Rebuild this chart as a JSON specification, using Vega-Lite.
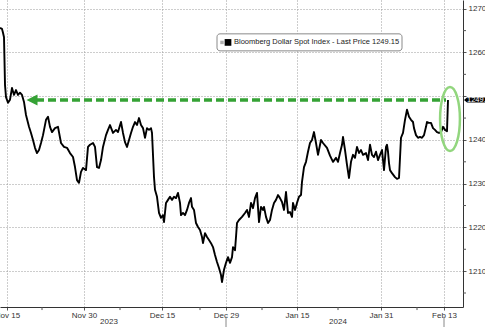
{
  "$schema": "https://vega.github.io/schema/vega-lite/v6.json",
  "width": 463,
  "height": 307,
  "autosize": {"type": "none"},
  "padding": {"left": 0, "top": 0, "right": 22, "bottom": 20},
  "background": "white",
  "config": {"view": {"stroke": null}, "font": "Liberation Sans"},
  "datasets": {
    "price": [
      {"i":0,"v":1265.6},{"i":2,"v":1265.4},{"i":3,"v":1264.5},{"i":4,"v":1263.5},{"i":5,"v":1252.6},{"i":6,"v":1249.8},{"i":8,"v":1248.5},{"i":10,"v":1249.2},{"i":12,"v":1251.9},{"i":14,"v":1250.3},{"i":16,"v":1251.4},{"i":18,"v":1250.3},{"i":20,"v":1250.8},{"i":22,"v":1250.3},{"i":24,"v":1248.7},{"i":26,"v":1245.7},{"i":29,"v":1243.0},{"i":31,"v":1241.6},{"i":33,"v":1240.0},{"i":35,"v":1238.2},{"i":37,"v":1237.0},{"i":39,"v":1237.7},{"i":41,"v":1239.3},{"i":43,"v":1241.1},{"i":46,"v":1244.6},{"i":48,"v":1245.3},{"i":50,"v":1243.0},{"i":52,"v":1241.8},{"i":55,"v":1242.7},{"i":58,"v":1243.0},{"i":61,"v":1239.3},{"i":64,"v":1238.4},{"i":67,"v":1238.2},{"i":70,"v":1237.0},{"i":73,"v":1236.1},{"i":75,"v":1233.8},{"i":77,"v":1230.8},{"i":79,"v":1230.2},{"i":81,"v":1232.7},{"i":83,"v":1233.6},{"i":86,"v":1233.1},{"i":88,"v":1238.4},{"i":90,"v":1238.9},{"i":93,"v":1239.3},{"i":95,"v":1238.4},{"i":97,"v":1233.8},{"i":99,"v":1233.6},{"i":101,"v":1235.4},{"i":103,"v":1238.4},{"i":106,"v":1241.1},{"i":108,"v":1242.3},{"i":110,"v":1243.4},{"i":113,"v":1241.6},{"i":116,"v":1242.3},{"i":118,"v":1241.8},{"i":121,"v":1244.1},{"i":123,"v":1241.6},{"i":125,"v":1239.5},{"i":127,"v":1238.4},{"i":129,"v":1240.0},{"i":131,"v":1241.6},{"i":133,"v":1243.0},{"i":135,"v":1244.1},{"i":137,"v":1243.4},{"i":139,"v":1245.0},{"i":141,"v":1243.4},{"i":143,"v":1242.7},{"i":145,"v":1240.5},{"i":147,"v":1242.7},{"i":149,"v":1242.3},{"i":151,"v":1242.7},{"i":152,"v":1241.6},{"i":154,"v":1231.5},{"i":155,"v":1228.6},{"i":157,"v":1227.0},{"i":159,"v":1223.3},{"i":161,"v":1222.2},{"i":163,"v":1222.8},{"i":164,"v":1221.2},{"i":166,"v":1225.6},{"i":168,"v":1226.3},{"i":170,"v":1227.0},{"i":172,"v":1226.3},{"i":174,"v":1227.0},{"i":176,"v":1226.7},{"i":178,"v":1227.9},{"i":180,"v":1225.6},{"i":181,"v":1222.8},{"i":183,"v":1223.3},{"i":185,"v":1222.8},{"i":187,"v":1224.0},{"i":189,"v":1225.6},{"i":191,"v":1226.7},{"i":192,"v":1224.7},{"i":194,"v":1224.0},{"i":196,"v":1221.0},{"i":198,"v":1220.1},{"i":200,"v":1219.4},{"i":202,"v":1217.8},{"i":203,"v":1216.4},{"i":205,"v":1218.7},{"i":207,"v":1217.8},{"i":209,"v":1217.1},{"i":211,"v":1216.4},{"i":213,"v":1215.5},{"i":215,"v":1213.7},{"i":217,"v":1212.1},{"i":219,"v":1210.7},{"i":221,"v":1209.1},{"i":222,"v":1207.5},{"i":224,"v":1210.3},{"i":226,"v":1211.9},{"i":228,"v":1213.2},{"i":230,"v":1211.9},{"i":232,"v":1213.2},{"i":233,"v":1215.5},{"i":235,"v":1214.8},{"i":236,"v":1217.8},{"i":237,"v":1221.0},{"i":239,"v":1221.7},{"i":242,"v":1222.4},{"i":245,"v":1223.3},{"i":247,"v":1224.0},{"i":249,"v":1222.4},{"i":251,"v":1225.6},{"i":253,"v":1224.4},{"i":255,"v":1226.7},{"i":257,"v":1227.9},{"i":259,"v":1221.2},{"i":261,"v":1224.7},{"i":263,"v":1224.0},{"i":264,"v":1224.7},{"i":266,"v":1222.4},{"i":268,"v":1221.0},{"i":270,"v":1221.7},{"i":272,"v":1224.0},{"i":274,"v":1225.6},{"i":276,"v":1226.3},{"i":278,"v":1227.4},{"i":280,"v":1226.7},{"i":282,"v":1225.8},{"i":284,"v":1224.0},{"i":286,"v":1228.1},{"i":288,"v":1223.3},{"i":290,"v":1223.5},{"i":292,"v":1222.4},{"i":293,"v":1225.6},{"i":295,"v":1224.0},{"i":297,"v":1225.6},{"i":299,"v":1227.0},{"i":301,"v":1227.4},{"i":302,"v":1230.4},{"i":304,"v":1233.8},{"i":306,"v":1235.0},{"i":308,"v":1237.3},{"i":310,"v":1239.3},{"i":312,"v":1240.0},{"i":314,"v":1241.8},{"i":316,"v":1239.3},{"i":318,"v":1236.6},{"i":321,"v":1240.0},{"i":323,"v":1239.3},{"i":327,"v":1238.2},{"i":330,"v":1236.4},{"i":333,"v":1235.0},{"i":336,"v":1235.9},{"i":338,"v":1235.0},{"i":340,"v":1237.0},{"i":342,"v":1238.9},{"i":343,"v":1240.7},{"i":345,"v":1237.7},{"i":347,"v":1234.3},{"i":349,"v":1231.3},{"i":351,"v":1235.0},{"i":353,"v":1236.6},{"i":355,"v":1235.9},{"i":357,"v":1238.4},{"i":359,"v":1237.0},{"i":361,"v":1237.7},{"i":363,"v":1236.6},{"i":366,"v":1237.0},{"i":368,"v":1235.4},{"i":370,"v":1238.9},{"i":372,"v":1236.6},{"i":374,"v":1236.1},{"i":376,"v":1237.3},{"i":378,"v":1235.4},{"i":380,"v":1236.6},{"i":382,"v":1237.7},{"i":384,"v":1233.1},{"i":386,"v":1238.4},{"i":387,"v":1238.9},{"i":388,"v":1237.3},{"i":389,"v":1234.7},{"i":390,"v":1233.1},{"i":392,"v":1232.4},{"i":395,"v":1231.5},{"i":397,"v":1231.1},{"i":399,"v":1231.3},{"i":400,"v":1235.9},{"i":401,"v":1240.5},{"i":403,"v":1241.6},{"i":405,"v":1244.6},{"i":407,"v":1246.9},{"i":409,"v":1245.3},{"i":411,"v":1244.6},{"i":413,"v":1244.1},{"i":414,"v":1242.7},{"i":416,"v":1241.1},{"i":418,"v":1240.5},{"i":420,"v":1240.7},{"i":422,"v":1240.5},{"i":424,"v":1241.1},{"i":426,"v":1243.0},{"i":427,"v":1244.1},{"i":429,"v":1243.9},{"i":431,"v":1243.9},{"i":433,"v":1242.7},{"i":435,"v":1242.3},{"i":437,"v":1241.8},{"i":439,"v":1241.6},{"i":441,"v":1241.8},{"i":443,"v":1243.0},{"i":445,"v":1242.3},{"i":447,"v":1242.0},{"i":448,"v":1249.15}
    ]
  },
  "layer": [
    {
      "data": {"name": "price"},
      "mark": {"type": "line", "color": "#000000", "strokeWidth": 1.9, "strokeJoin": "round"},
      "encoding": {
        "x": {
          "field": "i", "type": "quantitative",
          "scale": {"domain": [0, 463], "nice": false, "zero": false},
          "axis": {
            "orient": "bottom", "title": null,
            "values": [7, 84, 162, 226, 297, 381, 444],
            "labelExpr": "datum.value==7?'Nov 15':datum.value==84?'Nov 30':datum.value==162?'Dec 15':datum.value==226?'Dec 29':datum.value==297?'Jan 15':datum.value==381?'Jan 31':'Feb 13'",
            "labelOverlap": false, "labelFlush": false, "labelBound": false,
            "labelFontSize": 8, "labelColor": "#333333", "labelPadding": 1,
            "tickSize": 3, "tickColor": "#555555", "domainColor": "#333333",
            "grid": true, "gridDash": [1, 2], "gridColor": "#9a9a9a", "gridOpacity": 1
          }
        },
        "y": {
          "field": "v", "type": "quantitative",
          "scale": {"domain": [1201.8, 1272], "nice": false, "zero": false},
          "axis": {
            "orient": "right", "title": null,
            "values": [1210, 1220, 1230, 1240, 1250, 1260, 1270],
            "format": "d",
            "labelExpr": "datum.label == '1250' ? '' : datum.label",
            "labelOverlap": false, "labelFlush": false, "labelBound": false,
            "labelFontSize": 8, "labelColor": "#333333", "labelPadding": 2,
            "tickSize": 3, "tickColor": "#555555", "domainColor": "#333333",
            "grid": true, "gridDash": [1, 2], "gridColor": "#9a9a9a", "gridOpacity": 1
          }
        }
      }
    },
    {
      "data": {"values": [{"i": 42}, {"i": 120}, {"i": 200}, {"i": 262}, {"i": 338}, {"i": 417}]},
      "mark": {"type": "rule", "color": "#555555", "strokeWidth": 1},
      "encoding": {
        "x": {"field": "i", "type": "quantitative"},
        "y": {"datum": 1201.8},
        "y2": {"datum": 1201.1}
      }
    },
    {
      "data": {"values": [{"v": 1205}, {"v": 1215}, {"v": 1225}, {"v": 1235}, {"v": 1245}, {"v": 1255}, {"v": 1265}]},
      "mark": {"type": "rule", "color": "#555555", "strokeWidth": 1},
      "encoding": {
        "y": {"field": "v", "type": "quantitative"},
        "x": {"datum": 463},
        "x2": {"datum": 466}
      }
    },
    {
      "data": {"values": [{"i1": 36, "i2": 446, "v": 1249.15}]},
      "mark": {"type": "rule", "color": "#35a235", "strokeWidth": 3.5, "strokeDash": [8, 4]},
      "encoding": {
        "x": {"field": "i1", "type": "quantitative"},
        "x2": {"field": "i2"},
        "y": {"field": "v", "type": "quantitative"}
      }
    },
    {
      "data": {"values": [{"i": 32, "v": 1249.15}]},
      "mark": {"type": "point", "shape": "M -1 0 L 1 -1 L 1 1 Z", "filled": true, "color": "#35a235", "opacity": 1, "size": 121},
      "encoding": {
        "x": {"field": "i", "type": "quantitative"},
        "y": {"field": "v", "type": "quantitative"}
      }
    },
    {
      "data": {"values": [{"i": 450, "v": 1244.8}]},
      "mark": {"type": "point", "shape": "M 0.31 0 A 0.31 1 0 1 1 -0.31 0 A 0.31 1 0 1 1 0.31 0 Z", "filled": false, "color": "#92d67e", "strokeWidth": 2.5, "opacity": 1, "size": 4096},
      "encoding": {
        "x": {"field": "i", "type": "quantitative"},
        "y": {"field": "v", "type": "quantitative"}
      }
    },
    {
      "data": {"values": [{"i": 476, "v": 1249.15}]},
      "mark": {"type": "point", "shape": "M -1 0 L -0.75 -0.21 L 1 -0.21 L 1 0.21 L -0.75 0.21 Z", "filled": true, "color": "#000000", "opacity": 1, "size": 576},
      "encoding": {
        "x": {"field": "i", "type": "quantitative"},
        "y": {"field": "v", "type": "quantitative"}
      }
    },
    {
      "data": {"values": [{"i": 467, "v": 1249.15, "label": "1249."}]},
      "mark": {"type": "text", "color": "#ffffff", "fontSize": 7.5, "align": "left", "baseline": "middle"},
      "encoding": {
        "x": {"field": "i", "type": "quantitative"},
        "y": {"field": "v", "type": "quantitative"},
        "text": {"field": "label"}
      }
    },
    {
      "data": {"values": [{"i1": 217, "i2": 402, "v1": 1264.26, "v2": 1260.37}]},
      "mark": {"type": "rect", "fill": "#ffffff", "stroke": "#8a8a8a", "strokeWidth": 1, "cornerRadius": 3},
      "encoding": {
        "x": {"field": "i1", "type": "quantitative"},
        "x2": {"field": "i2"},
        "y": {"field": "v1", "type": "quantitative"},
        "y2": {"field": "v2"}
      }
    },
    {
      "data": {"values": [{"i": 222, "v": 1262.3}]},
      "mark": {"type": "point", "shape": "square", "filled": true, "color": "#b0b0b0", "opacity": 1, "size": 12},
      "encoding": {
        "x": {"field": "i", "type": "quantitative"},
        "y": {"field": "v", "type": "quantitative"}
      }
    },
    {
      "data": {"values": [{"i": 228, "v": 1262.3}]},
      "mark": {"type": "point", "shape": "square", "filled": true, "color": "#000000", "opacity": 1, "size": 45},
      "encoding": {
        "x": {"field": "i", "type": "quantitative"},
        "y": {"field": "v", "type": "quantitative"}
      }
    },
    {
      "data": {"values": [{"i": 234, "v": 1262.3, "label": "Bloomberg Dollar Spot Index - Last Price 1249.15"}]},
      "mark": {"type": "text", "color": "#222222", "fontSize": 7.5, "align": "left", "baseline": "middle"},
      "encoding": {
        "x": {"field": "i", "type": "quantitative"},
        "y": {"field": "v", "type": "quantitative"},
        "text": {"field": "label"}
      }
    },
    {
      "data": {"values": [{"i": 109, "v": 1198.35, "label": "2023"}, {"i": 338, "v": 1198.35, "label": "2024"}]},
      "mark": {"type": "text", "color": "#333333", "fontSize": 8, "align": "center", "baseline": "middle"},
      "encoding": {
        "x": {"field": "i", "type": "quantitative"},
        "y": {"field": "v", "type": "quantitative"},
        "text": {"field": "label"}
      }
    },
    {
      "data": {"values": [{"i": 226, "v1": 1199.6, "v2": 1197.0}, {"i": 444, "v1": 1199.6, "v2": 1197.0}]},
      "mark": {"type": "rule", "color": "#888888", "strokeWidth": 1},
      "encoding": {
        "x": {"field": "i", "type": "quantitative"},
        "y": {"field": "v1", "type": "quantitative"},
        "y2": {"field": "v2"}
      }
    }
  ]
}
